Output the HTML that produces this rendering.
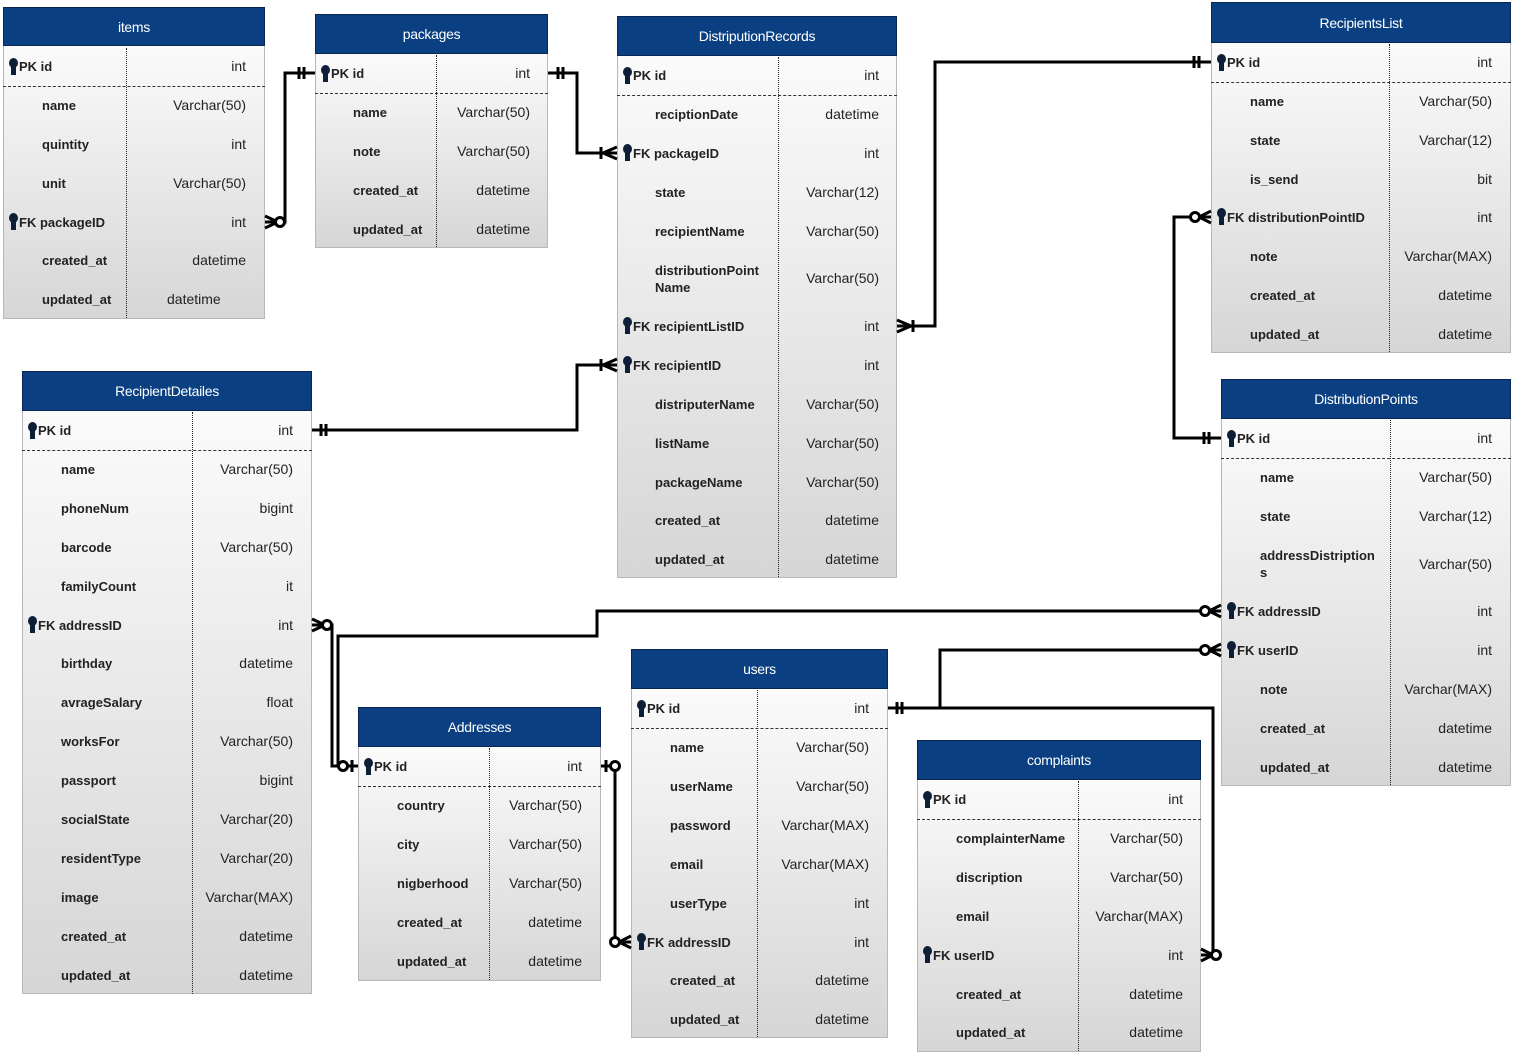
<!DOCTYPE html>
<html><head><meta charset="utf-8"><style>
body{margin:0;width:1514px;height:1054px;background:#fff;position:relative;overflow:hidden;font-family:"Liberation Sans",sans-serif;}
.b{position:absolute;background:linear-gradient(#fbfbfb,#d6d6d6);border:1px solid #b8b8b8;box-sizing:border-box}
.h{position:absolute;background:#0a3f82;border:1px solid #0a2550;box-sizing:border-box;color:#fff;font-size:14px;text-align:center;letter-spacing:-0.3px}
.v{position:absolute;border-left:1.5px dotted #222;width:0}
.d{position:absolute;border-top:1.5px dashed #333;height:0}
.n{position:absolute;font-size:13px;font-weight:bold;color:#222;white-space:nowrap;line-height:17px}
.y{position:absolute;font-size:14px;color:#222;white-space:nowrap;line-height:17px}
.k{position:absolute;width:9px;height:10px;border-radius:50%;background:#0d1e38}
.k::after{content:"";position:absolute;left:2px;top:8px;width:5px;height:9px;background:#0d1e38}
svg{position:absolute;left:0;top:0}
</style></head><body>

<!-- items -->
<div class="b" style="left:3px;top:44px;width:262px;height:275px"></div>
<div class="h" style="left:3px;top:7px;width:262px;height:39px;line-height:38px">items</div>
<div class="v" style="left:126px;top:48px;height:270px"></div>
<div class="d" style="left:3px;top:86px;width:262px"></div>
<div class="k" style="left:9px;top:58px"></div><div class="n" style="left:19px;top:58px">PK id</div><div class="y" style="right:1268px;top:58px">int</div>
<div class="n" style="left:42px;top:97px">name</div><div class="y" style="right:1268px;top:97px">Varchar(50)</div>
<div class="n" style="left:42px;top:136px">quintity</div><div class="y" style="right:1268px;top:136px">int</div>
<div class="n" style="left:42px;top:175px">unit</div><div class="y" style="right:1268px;top:175px">Varchar(50)</div>
<div class="k" style="left:9px;top:213px"></div><div class="n" style="left:19px;top:214px">FK packageID</div><div class="y" style="right:1268px;top:214px">int</div>
<div class="n" style="left:42px;top:252px">created_at</div><div class="y" style="right:1268px;top:252px">datetime</div>
<div class="n" style="left:42px;top:291px">updated_at</div><div class="y" style="right:1267px;top:291px;right:1267px;left:167px">datetime</div>

<!-- packages -->
<div class="b" style="left:315px;top:52px;width:233px;height:196px"></div>
<div class="h" style="left:315px;top:14px;width:233px;height:40px;line-height:39px">packages</div>
<div class="v" style="left:436px;top:55px;height:192px"></div>
<div class="d" style="left:315px;top:93px;width:233px"></div>
<div class="k" style="left:321px;top:65px"></div><div class="n" style="left:331px;top:65px">PK id</div><div class="y" style="right:984px;top:65px">int</div>
<div class="n" style="left:353px;top:104px">name</div><div class="y" style="right:984px;top:104px">Varchar(50)</div>
<div class="n" style="left:353px;top:143px">note</div><div class="y" style="right:984px;top:143px">Varchar(50)</div>
<div class="n" style="left:353px;top:182px">created_at</div><div class="y" style="right:984px;top:182px">datetime</div>
<div class="n" style="left:353px;top:221px">updated_at</div><div class="y" style="right:984px;top:221px">datetime</div>

<!-- DistriputionRecords -->
<div class="b" style="left:617px;top:54px;width:280px;height:524px"></div>
<div class="h" style="left:617px;top:16px;width:280px;height:40px;line-height:39px">DistriputionRecords</div>
<div class="v" style="left:778px;top:57px;height:520px"></div>
<div class="d" style="left:617px;top:95px;width:280px"></div>
<div class="k" style="left:623px;top:67px"></div><div class="n" style="left:633px;top:67px">PK id</div><div class="y" style="right:635px;top:67px">int</div>
<div class="n" style="left:655px;top:106px">reciptionDate</div><div class="y" style="right:635px;top:106px">datetime</div>
<div class="k" style="left:623px;top:144px"></div><div class="n" style="left:633px;top:145px">FK packageID</div><div class="y" style="right:635px;top:145px">int</div>
<div class="n" style="left:655px;top:184px">state</div><div class="y" style="right:635px;top:184px">Varchar(12)</div>
<div class="n" style="left:655px;top:223px">recipientName</div><div class="y" style="right:635px;top:223px">Varchar(50)</div>
<div class="n" style="left:655px;top:262px">distributionPoint<br>Name</div><div class="y" style="right:635px;top:270px">Varchar(50)</div>
<div class="k" style="left:623px;top:317px"></div><div class="n" style="left:633px;top:318px">FK recipientListID</div><div class="y" style="right:635px;top:318px">int</div>
<div class="k" style="left:623px;top:356px"></div><div class="n" style="left:633px;top:357px">FK recipientID</div><div class="y" style="right:635px;top:357px">int</div>
<div class="n" style="left:655px;top:396px">distriputerName</div><div class="y" style="right:635px;top:396px">Varchar(50)</div>
<div class="n" style="left:655px;top:435px">listName</div><div class="y" style="right:635px;top:435px">Varchar(50)</div>
<div class="n" style="left:655px;top:474px">packageName</div><div class="y" style="right:635px;top:474px">Varchar(50)</div>
<div class="n" style="left:655px;top:512px">created_at</div><div class="y" style="right:635px;top:512px">datetime</div>
<div class="n" style="left:655px;top:551px">updated_at</div><div class="y" style="right:635px;top:551px">datetime</div>

<!-- RecipientsList -->
<div class="b" style="left:1211px;top:41px;width:300px;height:312px"></div>
<div class="h" style="left:1211px;top:2px;width:300px;height:41px;line-height:40px">RecipientsList</div>
<div class="v" style="left:1389px;top:44px;height:308px"></div>
<div class="d" style="left:1211px;top:82px;width:300px"></div>
<div class="k" style="left:1217px;top:54px"></div><div class="n" style="left:1227px;top:54px">PK id</div><div class="y" style="right:22px;top:54px">int</div>
<div class="n" style="left:1250px;top:93px">name</div><div class="y" style="right:22px;top:93px">Varchar(50)</div>
<div class="n" style="left:1250px;top:132px">state</div><div class="y" style="right:22px;top:132px">Varchar(12)</div>
<div class="n" style="left:1250px;top:171px">is_send</div><div class="y" style="right:22px;top:171px">bit</div>
<div class="k" style="left:1217px;top:208px"></div><div class="n" style="left:1227px;top:209px">FK distributionPointID</div><div class="y" style="right:22px;top:209px">int</div>
<div class="n" style="left:1250px;top:248px">note</div><div class="y" style="right:22px;top:248px">Varchar(MAX)</div>
<div class="n" style="left:1250px;top:287px">created_at</div><div class="y" style="right:22px;top:287px">datetime</div>
<div class="n" style="left:1250px;top:326px">updated_at</div><div class="y" style="right:22px;top:326px">datetime</div>

<!-- RecipientDetailes -->
<div class="b" style="left:22px;top:409px;width:290px;height:585px"></div>
<div class="h" style="left:22px;top:371px;width:290px;height:40px;line-height:39px">RecipientDetailes</div>
<div class="v" style="left:192px;top:412px;height:582px"></div>
<div class="d" style="left:22px;top:450px;width:290px"></div>
<div class="k" style="left:28px;top:422px"></div><div class="n" style="left:38px;top:422px">PK id</div><div class="y" style="right:1221px;top:422px">int</div>
<div class="n" style="left:61px;top:461px">name</div><div class="y" style="right:1221px;top:461px">Varchar(50)</div>
<div class="n" style="left:61px;top:500px">phoneNum</div><div class="y" style="right:1221px;top:500px">bigint</div>
<div class="n" style="left:61px;top:539px">barcode</div><div class="y" style="right:1221px;top:539px">Varchar(50)</div>
<div class="n" style="left:61px;top:578px">familyCount</div><div class="y" style="right:1221px;top:578px">it</div>
<div class="k" style="left:28px;top:616px"></div><div class="n" style="left:38px;top:617px">FK addressID</div><div class="y" style="right:1221px;top:617px">int</div>
<div class="n" style="left:61px;top:655px">birthday</div><div class="y" style="right:1221px;top:655px">datetime</div>
<div class="n" style="left:61px;top:694px">avrageSalary</div><div class="y" style="right:1221px;top:694px">float</div>
<div class="n" style="left:61px;top:733px">worksFor</div><div class="y" style="right:1221px;top:733px">Varchar(50)</div>
<div class="n" style="left:61px;top:772px">passport</div><div class="y" style="right:1221px;top:772px">bigint</div>
<div class="n" style="left:61px;top:811px">socialState</div><div class="y" style="right:1221px;top:811px">Varchar(20)</div>
<div class="n" style="left:61px;top:850px">residentType</div><div class="y" style="right:1221px;top:850px">Varchar(20)</div>
<div class="n" style="left:61px;top:889px">image</div><div class="y" style="right:1221px;top:889px">Varchar(MAX)</div>
<div class="n" style="left:61px;top:928px">created_at</div><div class="y" style="right:1221px;top:928px">datetime</div>
<div class="n" style="left:61px;top:967px">updated_at</div><div class="y" style="right:1221px;top:967px">datetime</div>

<!-- DistributionPoints -->
<div class="b" style="left:1221px;top:417px;width:290px;height:369px"></div>
<div class="h" style="left:1221px;top:379px;width:290px;height:40px;line-height:39px">DistributionPoints</div>
<div class="v" style="left:1390px;top:420px;height:365px"></div>
<div class="d" style="left:1221px;top:458px;width:290px"></div>
<div class="k" style="left:1227px;top:430px"></div><div class="n" style="left:1237px;top:430px">PK id</div><div class="y" style="right:22px;top:430px">int</div>
<div class="n" style="left:1260px;top:469px">name</div><div class="y" style="right:22px;top:469px">Varchar(50)</div>
<div class="n" style="left:1260px;top:508px">state</div><div class="y" style="right:22px;top:508px">Varchar(12)</div>
<div class="n" style="left:1260px;top:547px">addressDistription<br>s</div><div class="y" style="right:22px;top:556px">Varchar(50)</div>
<div class="k" style="left:1227px;top:602px"></div><div class="n" style="left:1237px;top:603px">FK addressID</div><div class="y" style="right:22px;top:603px">int</div>
<div class="k" style="left:1227px;top:641px"></div><div class="n" style="left:1237px;top:642px">FK userID</div><div class="y" style="right:22px;top:642px">int</div>
<div class="n" style="left:1260px;top:681px">note</div><div class="y" style="right:22px;top:681px">Varchar(MAX)</div>
<div class="n" style="left:1260px;top:720px">created_at</div><div class="y" style="right:22px;top:720px">datetime</div>
<div class="n" style="left:1260px;top:759px">updated_at</div><div class="y" style="right:22px;top:759px">datetime</div>

<!-- Addresses -->
<div class="b" style="left:358px;top:745px;width:243px;height:236px"></div>
<div class="h" style="left:358px;top:707px;width:243px;height:40px;line-height:39px">Addresses</div>
<div class="v" style="left:489px;top:748px;height:232px"></div>
<div class="d" style="left:358px;top:786px;width:243px"></div>
<div class="k" style="left:364px;top:758px"></div><div class="n" style="left:374px;top:758px">PK id</div><div class="y" style="right:932px;top:758px">int</div>
<div class="n" style="left:397px;top:797px">country</div><div class="y" style="right:932px;top:797px">Varchar(50)</div>
<div class="n" style="left:397px;top:836px">city</div><div class="y" style="right:932px;top:836px">Varchar(50)</div>
<div class="n" style="left:397px;top:875px">nigberhood</div><div class="y" style="right:932px;top:875px">Varchar(50)</div>
<div class="n" style="left:397px;top:914px">created_at</div><div class="y" style="right:932px;top:914px">datetime</div>
<div class="n" style="left:397px;top:953px">updated_at</div><div class="y" style="right:932px;top:953px">datetime</div>

<!-- users -->
<div class="b" style="left:631px;top:687px;width:257px;height:351px"></div>
<div class="h" style="left:631px;top:649px;width:257px;height:40px;line-height:39px">users</div>
<div class="v" style="left:757px;top:690px;height:347px"></div>
<div class="d" style="left:631px;top:728px;width:257px"></div>
<div class="k" style="left:637px;top:700px"></div><div class="n" style="left:647px;top:700px">PK id</div><div class="y" style="right:645px;top:700px">int</div>
<div class="n" style="left:670px;top:739px">name</div><div class="y" style="right:645px;top:739px">Varchar(50)</div>
<div class="n" style="left:670px;top:778px">userName</div><div class="y" style="right:645px;top:778px">Varchar(50)</div>
<div class="n" style="left:670px;top:817px">password</div><div class="y" style="right:645px;top:817px">Varchar(MAX)</div>
<div class="n" style="left:670px;top:856px">email</div><div class="y" style="right:645px;top:856px">Varchar(MAX)</div>
<div class="n" style="left:670px;top:895px">userType</div><div class="y" style="right:645px;top:895px">int</div>
<div class="k" style="left:637px;top:933px"></div><div class="n" style="left:647px;top:934px">FK addressID</div><div class="y" style="right:645px;top:934px">int</div>
<div class="n" style="left:670px;top:972px">created_at</div><div class="y" style="right:645px;top:972px">datetime</div>
<div class="n" style="left:670px;top:1011px">updated_at</div><div class="y" style="right:645px;top:1011px">datetime</div>

<!-- complaints -->
<div class="b" style="left:917px;top:778px;width:284px;height:274px"></div>
<div class="h" style="left:917px;top:740px;width:284px;height:40px;line-height:39px">complaints</div>
<div class="v" style="left:1078px;top:781px;height:270px"></div>
<div class="d" style="left:917px;top:819px;width:284px"></div>
<div class="k" style="left:923px;top:791px"></div><div class="n" style="left:933px;top:791px">PK id</div><div class="y" style="right:331px;top:791px">int</div>
<div class="n" style="left:956px;top:830px">complainterName</div><div class="y" style="right:331px;top:830px">Varchar(50)</div>
<div class="n" style="left:956px;top:869px">discription</div><div class="y" style="right:331px;top:869px">Varchar(50)</div>
<div class="n" style="left:956px;top:908px">email</div><div class="y" style="right:331px;top:908px">Varchar(MAX)</div>
<div class="k" style="left:923px;top:946px"></div><div class="n" style="left:933px;top:947px">FK userID</div><div class="y" style="right:331px;top:947px">int</div>
<div class="n" style="left:956px;top:986px">created_at</div><div class="y" style="right:331px;top:986px">datetime</div>
<div class="n" style="left:956px;top:1024px">updated_at</div><div class="y" style="right:331px;top:1024px">datetime</div>

<svg width="1514" height="1054" fill="none" stroke="#000" stroke-width="3">
<!-- items -> packages -->
<polyline points="265,222 285,222 285,73 315,73"/>
<path d="M265,216 L278,222 L265,228"/><circle cx="280" cy="222" r="4.5" fill="#fff"/>
<path d="M299,67 V79 M304,67 V79"/>
<!-- packages -> DR packageID -->
<polyline points="548,73 577,73 577,153 617,153"/>
<path d="M558,67 V79 M563,67 V79"/>
<path d="M617,147 L603,153 L617,159 M601,147 V159"/>
<!-- DR recipientListID -> RecipientsList -->
<polyline points="897,326 935,326 935,62 1211,62"/>
<path d="M897,320 L911,326 L897,332 M913,320 V332"/>
<path d="M1194,56 V68 M1199,56 V68"/>
<!-- RecipientDetailes -> DR recipientID -->
<polyline points="312,430 577,430 577,365 617,365"/>
<path d="M321,424 V436 M326,424 V436"/>
<path d="M617,359 L603,365 L617,371 M601,359 V371"/>
<!-- RecipientsList distributionPointID -> DP -->
<polyline points="1211,217 1174,217 1174,438 1221,438"/>
<path d="M1211,211 L1199,217 L1211,223"/><circle cx="1195" cy="217" r="4.5" fill="#fff"/>
<path d="M1204,432 V444 M1209,432 V444"/>
<!-- DP addressID -> Addresses -->
<polyline points="1221,611 597,611 597,636 338,636 338,766 358,766"/>
<path d="M1221,605 L1209,611 L1221,617"/><circle cx="1205" cy="611" r="4.5" fill="#fff"/>
<!-- RD addressID -> Addresses -->
<polyline points="312,625 332,625 332,766 358,766"/>
<path d="M312,619 L325,625 L312,631"/><circle cx="327" cy="625" r="4.5" fill="#fff"/>
<circle cx="343" cy="766" r="4.5" fill="#fff"/><path d="M352,760 V772"/>
<!-- users addressID -> Addresses -->
<polyline points="631,942 615,942 615,766 601,766"/>
<path d="M631,936 L619,942 L631,948"/><circle cx="615" cy="942" r="4.5" fill="#fff"/>
<circle cx="615" cy="766" r="4.5" fill="#fff"/><path d="M606,760 V772"/>
<!-- users PK -> DP userID / complaints -->
<polyline points="888,708 940,708 940,650 1221,650"/>
<polyline points="940,708 1213,708 1213,955 1201,955"/>
<path d="M897,702 V714 M902,702 V714"/>
<path d="M1221,644 L1209,650 L1221,656"/><circle cx="1205" cy="650" r="4.5" fill="#fff"/>
<path d="M1201,949 L1213,955 L1201,961"/><circle cx="1216" cy="955" r="4.5" fill="#fff"/>
</svg>
</body></html>
